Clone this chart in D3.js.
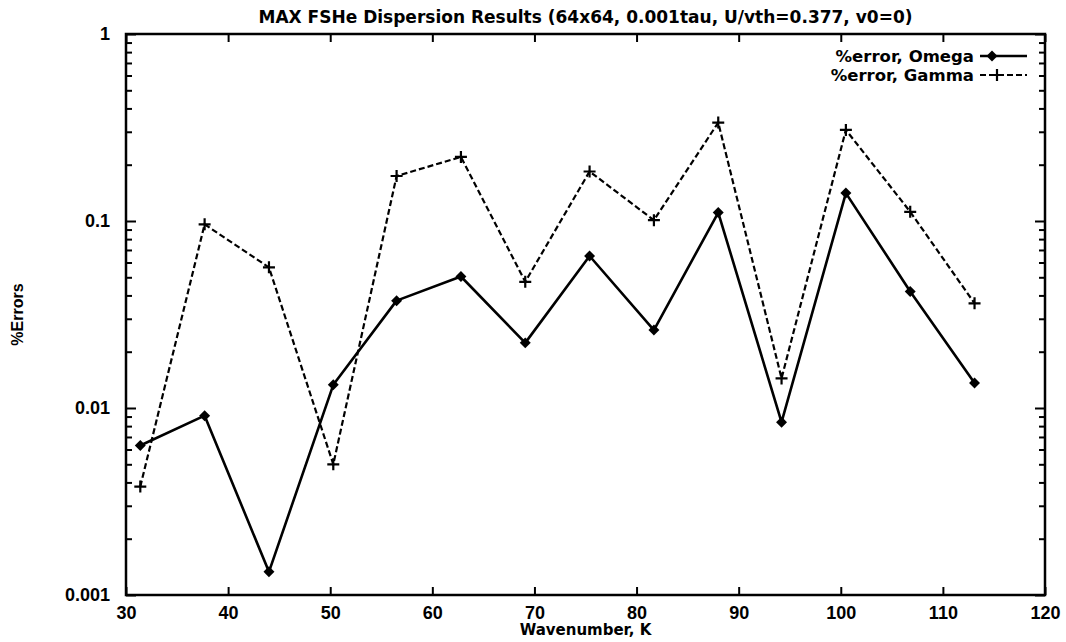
<!DOCTYPE html>
<html>
<head>
<meta charset="utf-8">
<script src="https://cdn.jsdelivr.net/npm/d3@7"></script>
<style>
  body { margin: 0; background: #fff; }
  svg text { font-family: 'Liberation Sans', Arial, sans-serif; font-weight: bold; fill: #000; }
  svg text.wide { font-family: 'DejaVu Sans', sans-serif; }
</style>
</head>
<body>
<div id="chart"></div>
<script>
//
// DATA
//

const wavenumber = [31.4, 37.7, 44.0, 50.3, 56.5, 62.8, 69.1, 75.4, 81.7, 88.0, 94.2, 100.5, 106.8, 113.1];
const omegaErr = [0.0063, 0.0091, 0.00133, 0.0133, 0.0375, 0.0505, 0.0223, 0.065, 0.0261, 0.111, 0.0084, 0.141, 0.042, 0.0136];
const gammaErr = [0.0038, 0.096, 0.0565, 0.005, 0.174, 0.22, 0.0473, 0.184, 0.101, 0.336, 0.0144, 0.307, 0.112, 0.0363];
const xTicks = [30, 40, 50, 60, 70, 80, 90, 100, 110, 120];
const yTicks = [0.001, 0.01, 0.1, 1];
const yTickLabels = ['0.001', '0.01', '0.1', '1'];
const seriesNames = ['%error, Omega', '%error, Gamma'];
const title = 'MAX FSHe Dispersion Results (64x64, 0.001tau, U/vth=0.377, v0=0)';

//
// CHART
//

const width = 1066;
const height = 642;
const margin = {top: 34, right: 21, bottom: 47, left: 126};

const svg = d3.select('#chart')
    .append('svg')
        .attr('width', width)
        .attr('height', height);

// scales
const x = d3.scaleLinear()
    .domain([30, 120])
    .range([margin.left, width - margin.right]);
const y = d3.scaleLog()
    .domain([0.001, 1])
    .range([height - margin.bottom, margin.top]);

// minor log ticks 2..9 per decade
let minors = [];
yTicks.slice(0, -1).forEach(d => {
    for (let k = 2; k < 10; k++) minors.push(d * k);
});

// axes
const xx = g =>
    g
        .attr('transform', `translate(0,${height - margin.bottom})`)
        .call(d3.axisBottom(x)
            .tickValues(xTicks)
            .tickFormat(d3.format('d'))
            .tickSizeInner(-8)
            .tickSizeOuter(0)
            .tickPadding(11))
        .call(g => g.select('.domain').remove())
        .call(g => g.selectAll('.tick line').attr('stroke-width', 2))
        .call(g => g.selectAll('.tick text').style('font-size', '18px'));

const xTop = g =>
    g
        .attr('transform', `translate(0,${margin.top})`)
        .call(d3.axisTop(x)
            .tickValues(xTicks)
            .tickFormat('')
            .tickSizeInner(-8)
            .tickSizeOuter(0))
        .call(g => g.select('.domain').remove())
        .call(g => g.selectAll('.tick line').attr('stroke-width', 2));

const yx = g =>
    g
        .attr('transform', `translate(${margin.left},0)`)
        .call(d3.axisLeft(y)
            .tickValues(yTicks)
            .tickFormat((d, i) => yTickLabels[i])
            .tickSizeInner(-10)
            .tickSizeOuter(0)
            .tickPadding(16))
        .call(g => g.select('.domain').remove())
        .call(g => g.selectAll('.tick line').attr('stroke-width', 2))
        .call(g => g.selectAll('.tick text').style('font-size', '18px'));

const yMinor = (g, axis) =>
    g
        .call(axis(y)
            .tickValues(minors)
            .tickFormat('')
            .tickSizeInner(-6)
            .tickSizeOuter(0))
        .call(g => g.select('.domain').remove())
        .call(g => g.selectAll('.tick line').attr('stroke-width', 2));

const yRight = g =>
    g
        .attr('transform', `translate(${width - margin.right},0)`)
        .call(d3.axisRight(y)
            .tickValues(yTicks)
            .tickFormat('')
            .tickSizeInner(-10)
            .tickSizeOuter(0))
        .call(g => g.select('.domain').remove())
        .call(g => g.selectAll('.tick line').attr('stroke-width', 2));

svg.append('g').call(xx);
svg.append('g').call(xTop);
svg.append('g').call(yx);
svg.append('g').call(yRight);
svg.append('g')
    .attr('transform', `translate(${margin.left},0)`)
    .call(g => yMinor(g, d3.axisLeft));
svg.append('g')
    .attr('transform', `translate(${width - margin.right},0)`)
    .call(g => yMinor(g, d3.axisRight));

// frame
svg.append('rect')
    .attr('x', x(30))
    .attr('y', y(1))
    .attr('width', x(120) - x(30))
    .attr('height', y(0.001) - y(1))
    .attr('fill', 'none')
    .attr('stroke', '#000')
    .attr('stroke-width', 2.5);

// lines
const line = d3.line()
    .x((d, i) => x(wavenumber[i]))
    .y(d => y(d));

svg.append('path')
    .datum(omegaErr)
        .attr('fill', 'none')
        .attr('stroke', '#000')
        .attr('stroke-width', 2.6)
        .attr('stroke-linejoin', 'round')
        .attr('d', line);

svg.append('path')
    .datum(gammaErr)
        .attr('fill', 'none')
        .attr('stroke', '#000')
        .attr('stroke-width', 2.2)
        .attr('stroke-dasharray', '6,3')
        .attr('d', line);

// markers
const diamond = d3.symbol().type(d3.symbolSquare).size(60);

svg.append('g')
    .selectAll('path')
    .data(omegaErr)
    .join('path')
        .attr('transform', (d, i) => `translate(${x(wavenumber[i])},${y(d)}) rotate(45)`)
        .attr('d', diamond)
        .attr('fill', '#000');

const crossMark = (sel) =>
    sel.append('path')
        .attr('d', 'M-6,0H6M0,-6V6')
        .attr('stroke', '#000')
        .attr('stroke-width', 2.2)
        .attr('fill', 'none');

svg.append('g')
    .selectAll('g')
    .data(gammaErr)
    .join('g')
        .attr('transform', (d, i) => `translate(${x(wavenumber[i])},${y(d)})`)
        .call(crossMark);

// legend
const legend = svg.append('g');
seriesNames.forEach((name, i) => {
    const ly = 56 + i * 19;
    legend.append('text')
        .attr('class', 'wide')
        .attr('x', 974)
        .attr('y', ly)
        .attr('dy', '0.35em')
        .attr('text-anchor', 'end')
        .style('font-size', '16.5px')
        .text(name);
    legend.append('line')
        .attr('x1', 980)
        .attr('x2', 1027)
        .attr('y1', ly)
        .attr('y2', ly)
        .attr('stroke', '#000')
        .attr('stroke-width', i == 0 ? 2.6 : 2.2)
        .attr('stroke-dasharray', i == 0 ? null : '6,3');
    if (i == 0) {
        legend.append('path')
            .attr('transform', `translate(992,${ly}) rotate(45)`)
            .attr('d', diamond)
            .attr('fill', '#000');
    } else {
        legend.append('g')
            .attr('transform', `translate(997,${ly})`)
            .call(crossMark);
    }
});

// title and axis labels
svg.append('text')
    .attr('class', 'wide')
    .attr('x', (x(30) + x(120)) / 2)
    .attr('y', 17)
    .attr('dy', '0.35em')
    .attr('text-anchor', 'middle')
    .style('font-size', '17px')
    .text(title);

svg.append('text')
    .attr('class', 'wide')
    .attr('x', (x(30) + x(120)) / 2)
    .attr('y', 630)
    .attr('dy', '0.35em')
    .attr('text-anchor', 'middle')
    .style('font-size', '15px')
    .text('Wavenumber, K');

svg.append('text')
    .attr('transform', `translate(17,${(y(1) + y(0.001)) / 2}) rotate(-90)`)
    .attr('dy', '0.35em')
    .attr('text-anchor', 'middle')
    .style('font-size', '16px')
    .text('%Errors');
</script>
</body>
</html>
